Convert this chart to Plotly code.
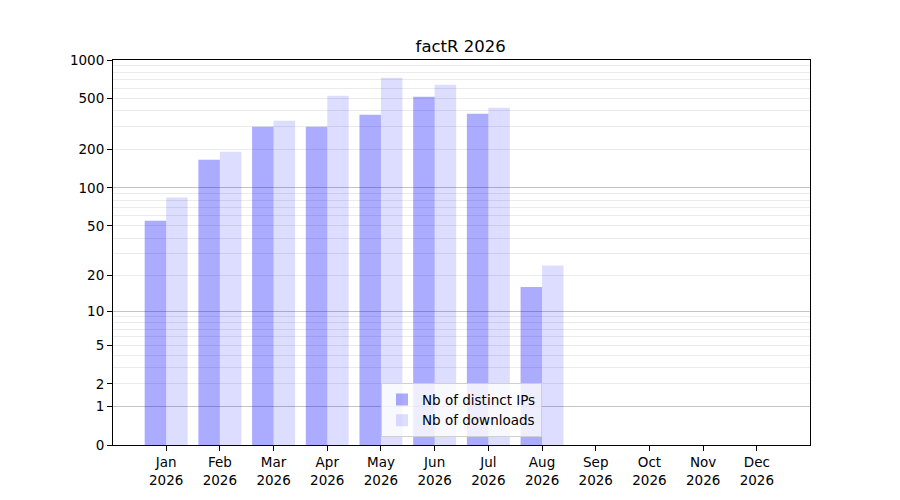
import numpy as np
import plotly.graph_objects as go

months = ['Jan', 'Feb', 'Mar', 'Apr', 'May', 'Jun', 'Jul', 'Aug', 'Sep', 'Oct', 'Nov', 'Dec']
year = '2026'
nb_ips = [55, 166, 301, 301, 374, 517, 381, 16, 0, 0, 0, 0]
nb_downloads = [84, 192, 336, 526, 728, 642, 424, 24, 0, 0, 0, 0]
y_ticks = [0, 1, 2, 5, 10, 20, 50, 100, 200, 500, 1000]
major_grid = [1, 10, 100]
minor_grid = [k * 10 ** d for d in range(3) for k in range(2, 10)]


def fwd(v):
    # y scale used by the original chart: log10(v + 1)
    return np.log10(np.asarray(v, dtype=float) + 1)


x = np.arange(len(months))
y_range = [0, float(fwd(1000))]
font = dict(family='DejaVu Sans', size=13.5, color='black')

fig = go.Figure()

fig.add_trace(go.Bar(
    x=x, y=fwd(nb_ips), name='Nb of distinct IPs',
    marker=dict(color='rgba(0,0,255,0.33)', line=dict(width=0)),
))
fig.add_trace(go.Bar(
    x=x, y=fwd(nb_downloads), name='Nb of downloads',
    marker=dict(color='rgba(0,0,255,0.135)', line=dict(width=0)),
))
# empty trace so the overlay axis (darker grid) is drawn
fig.add_trace(go.Scatter(x=[], y=[], yaxis='y2', showlegend=False, hoverinfo='skip'))

# page body adds an 8px offset, margins compensate for it
fig.update_layout(
    width=900, height=500,
    margin=dict(l=105, r=98, t=52, b=63),
    paper_bgcolor='white', plot_bgcolor='rgba(0,0,0,0)',
    font=font,
    barmode='group', bargap=0.2, bargroupgap=0,
    title=dict(text='factR 2026', x=0.503, xanchor='center', y=0.924, yanchor='middle',
               font=dict(family='DejaVu Sans', size=16.5, color='black')),
    xaxis=dict(
        range=[-0.99, 11.99], tickmode='array', tickvals=x,
        ticktext=[m + '<br>' + year for m in months],
        showgrid=False, zeroline=False,
        showline=True, linecolor='black', linewidth=1, mirror=True,
        ticks='outside', ticklen=5, tickcolor='black',
    ),
    yaxis=dict(
        range=y_range, tickmode='array', tickvals=fwd(y_ticks),
        ticktext=[str(t) for t in y_ticks],
        showgrid=False, zeroline=False,
        showline=True, linecolor='black', linewidth=1, mirror=True,
        ticks='outside', ticklen=5, tickcolor='black',
        minor=dict(tickmode='array', tickvals=fwd(minor_grid), showgrid=True,
                   gridcolor='#ebebeb', gridwidth=1, ticks=''),
    ),
    yaxis2=dict(
        range=y_range, overlaying='y', tickmode='array', tickvals=fwd(major_grid),
        showticklabels=False, showgrid=True, gridcolor='#c4c4c4', gridwidth=1,
        zeroline=False, showline=False, ticks='',
    ),
    legend=dict(
        x=0.5, xanchor='center', y=0.02, yanchor='bottom',
        bgcolor='rgba(255,255,255,0.8)', bordercolor='#d0d0d0', borderwidth=1,
        font=font, tracegroupgap=2,
    ),
)

fig.write_html('out.html')
